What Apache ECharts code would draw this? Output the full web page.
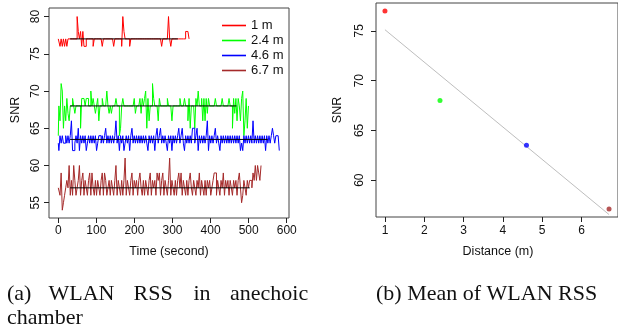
<!DOCTYPE html>
<html><head><meta charset="utf-8">
<script src="https://cdn.jsdelivr.net/npm/echarts@6/dist/echarts.min.js"></script>
<style>html,body{margin:0;padding:0;background:#fff;}#c{width:618px;height:331px;}</style>
</head><body><div id="c"></div>
<script>
// ---------- data ----------
const seriesNames = ['1 m', '2.4 m', '4.6 m', '6.7 m'];
const sampleStep = 3; // seconds between samples
const snr1m = [77,77,76,77,76,77,76,77,76,77,
 77,77,77,77,77,77,77,80,78,77,
 78,76,78,76,76,77,77,77,77,77,
 77,76,77,77,77,77,77,77,77,76,
 77,77,77,77,77,77,77,77,77,76,
 77,77,77,77,77,77,76,80,78,77,
 77,77,77,76,77,77,77,77,77,77,
 77,77,77,77,77,77,77,77,77,77,
 77,77,77,77,77,77,77,77,77,77,
 77,76,77,77,77,77,77,80,77,76,
 77,77,77,77,77,77,77,77,77,77,
 77,77,78,78,78,77];
const snr24m = [64,68,66,71,70,65,68,66,69,67,
 66,68,68,69,68,67,68,68,68,68,
 65,69,69,69,68,69,69,68,68,70,
 68,69,68,67,68,69,66,68,68,69,
 68,68,68,70,68,67,68,67,68,68,
 68,69,68,68,64,65,68,69,68,68,
 68,68,68,68,68,68,68,69,67,68,
 68,68,69,67,69,68,69,70,65,69,
 66,68,68,71,69,68,68,68,66,69,
 68,68,68,68,68,68,69,68,68,68,
 66,68,68,68,68,68,68,69,68,68,
 68,69,68,68,66,69,65,68,68,68,
 65,69,68,70,68,68,69,66,69,66,
 69,67,69,68,68,68,68,68,69,68,
 68,68,68,68,69,68,68,68,68,68,
 69,68,68,65,69,67,69,66,69,68,
 66,69,70,64,66,69,65,68];
const snr46m = [63,62,64,63,64,63,63,64,63,64,
 63,64,66,62,62,63,64,63,65,62,
 64,63,64,63,64,62,63,64,63,64,
 63,64,63,64,62,63,64,64,63,64,
 63,64,65,63,64,63,64,63,64,63,
 64,66,63,64,62,64,63,64,62,63,
 64,63,64,62,64,65,63,64,63,64,
 63,64,63,64,63,64,63,64,63,62,
 64,63,64,63,64,62,64,65,63,64,
 65,63,64,63,64,63,62,64,63,64,
 62,64,63,64,63,64,65,63,64,65,
 63,62,64,63,64,63,64,63,65,65,
 63,64,65,62,64,63,64,63,64,63,
 64,66,62,64,63,64,63,64,65,63,
 64,63,62,64,63,64,63,64,63,64,
 63,64,63,64,63,64,63,64,63,64,
 62,63,62,64,63,64,63,64,63,64,
 63,66,63,64,63,64,63,64,63,64,
 63,64,62,64,63,64,63,64,65,64,
 63,64,64,64,62];
const snr67m = [57,57,56,59,54,55,56,57,58,57,
 60,56,58,56,60,58,56,57,58,60,
 56,58,59,56,58,57,56,58,59,56,
 59,57,56,58,56,58,57,56,58,59,
 56,59,58,56,57,58,56,58,57,56,
 58,60,56,58,57,56,58,56,58,61,
 56,58,57,56,58,59,56,58,57,58,
 56,58,59,57,56,58,56,58,57,56,
 58,59,56,58,57,58,56,59,58,59,
 56,58,59,56,58,57,56,58,61,56,
 58,57,56,58,56,58,59,57,59,56,
 58,57,56,58,56,58,59,57,56,58,
 57,56,58,57,59,56,58,57,56,58,
 56,58,57,58,56,57,58,59,59,56,
 58,57,56,58,57,59,56,58,57,58,
 56,58,57,56,58,57,58,56,58,59,
 57,55,56,58,57,56,58,57,58,58,
 57,59,58,60,58,60,59,58,60];
const meanSNR = [77, 68, 63.5, 57];
const meanStart = [31, 31, 31, 31];
const meanEnd = [314, 468, 550, 503];
const timeTicks = [0, 100, 200, 300, 400, 500, 600];
const snrTicksA = [55, 60, 65, 70, 75, 80];

const distances = [1, 2.4, 4.6, 6.7];
const meanPoints = [77, 68, 63.5, 57.1];
const distTicks = [1, 2, 3, 4, 5, 6];
const snrTicksB = [60, 65, 70, 75];

// ---------- build ----------
const colors = ['#FF0000', '#00FF00', '#0000FF', '#A52A2A'];
const allSeries = [snr1m, snr24m, snr46m, snr67m];
const FONT = '"Liberation Sans", Arial, sans-serif';
const SERIF = '"Liberation Serif", "Times New Roman", serif';

// linear fit of the means against distance
const n = distances.length;
const mx = distances.reduce((a, b) => a + b, 0) / n;
const my = meanPoints.reduce((a, b) => a + b, 0) / n;
let sxy = 0, sxx = 0;
for (let i = 0; i < n; i++) { sxy += (distances[i] - mx) * (meanPoints[i] - my); sxx += (distances[i] - mx) ** 2; }
const slope = sxy / sxx, icpt = my - slope * mx;
const dMin = Math.min(...distances), dMax = Math.max(...distances);

const series = [];
allSeries.forEach((vals, k) => {
  series.push({
    name: seriesNames[k], type: 'line', xAxisIndex: 0, yAxisIndex: 0,
    data: vals.map((v, i) => [i * sampleStep, v]),
    step: 'middle', symbol: 'none', silent: true,
    lineStyle: { color: colors[k], width: 1 }, itemStyle: { color: colors[k] }, z: 2
  });
});
meanSNR.forEach((m, k) => {
  series.push({
    name: 'mean' + k, type: 'line', xAxisIndex: 0, yAxisIndex: 0,
    data: [[meanStart[k], m], [meanEnd[k], m]], symbol: 'none', silent: true,
    lineStyle: { color: '#000', width: 1 }, z: 3
  });
});
series.push({
  name: 'fit', type: 'line', xAxisIndex: 1, yAxisIndex: 1, symbol: 'none', silent: true,
  data: [[dMin, icpt + slope * dMin], [dMax, icpt + slope * dMax]],
  lineStyle: { color: '#BEBEBE', width: 1 }, z: 2
});
series.push({
  name: 'means', type: 'scatter', xAxisIndex: 1, yAxisIndex: 1, symbolSize: 5, silent: true,
  data: distances.map((d, i) => ({ value: [d, meanPoints[i]], itemStyle: { color: colors[i] } })), z: 3
});

function xAx(grid, min, max, ticks, margin) {
  return { type: 'value', gridIndex: grid, min: min, max: max,
    axisLine: { show: false, onZero: false }, splitLine: { show: false },
    axisTick: { show: true, inside: false, customValues: ticks, length: 5, lineStyle: { color: '#222' } },
    axisLabel: { customValues: ticks, margin: margin, fontSize: 12, fontFamily: FONT, color: '#111' } };
}
function yAx(grid, min, max, ticks, margin) {
  return { type: 'value', gridIndex: grid, min: min, max: max,
    axisLine: { show: false, onZero: false }, splitLine: { show: false },
    axisTick: { show: true, inside: false, customValues: ticks, length: 5, lineStyle: { color: '#222' } },
    axisLabel: { customValues: ticks, margin: margin, rotate: 90, fontSize: 12, fontFamily: FONT, color: '#111' } };
}

function txt(s, x, y, opts) {
  opts = opts || {};
  return { type: 'text', x: x, y: y, rotation: opts.rot || 0, silent: true,
    style: { text: s, font: opts.font || ('12.5px ' + FONT), fill: '#111',
      align: opts.align || 'center', verticalAlign: 'middle' } };
}
const capFont = '22px ' + SERIF;
const capY1 = 294.5, capY2 = 318.5;

const option = {
  animation: false,
  backgroundColor: '#fff',
  grid: [
    { left: 49, top: 8, width: 240, height: 210, show: true, borderColor: '#444', borderWidth: 1 },
    { left: 376, top: 3, width: 244, height: 214, show: true, borderColor: '#444', borderWidth: 1 }
  ],
  xAxis: [xAx(0, -24.4, 606, timeTicks, 7), xAx(1, 0.772, 6.928, distTicks, 8)],
  yAxis: [yAx(0, 52.95, 81.15, snrTicksA, 7.5), yAx(1, 56.3, 77.8, snrTicksB, 10)],
  legend: {
    data: seriesNames, orient: 'vertical', left: 222, top: 18, padding: 0,
    icon: 'rect', itemWidth: 24, itemHeight: 1.6, itemGap: 0, selectedMode: false,
    textStyle: { fontSize: 13, lineHeight: 15, fontFamily: FONT, color: '#111' }
  },
  graphic: [
    txt('SNR', 15.5, 110, { rot: Math.PI / 2 }),
    txt('Time (second)', 169, 252),
    txt('SNR', 337.5, 110, { rot: Math.PI / 2 }),
    txt('Distance (m)', 498, 251.5),
    txt('(a)', 7, capY1, { font: capFont, align: 'left' }),
    txt('WLAN', 48.5, capY1, { font: capFont, align: 'left' }),
    txt('RSS', 133.5, capY1, { font: capFont, align: 'left' }),
    txt('in', 193.5, capY1, { font: capFont, align: 'left' }),
    txt('anechoic', 230, capY1, { font: capFont, align: 'left' }),
    txt('chamber', 7, capY2, { font: capFont, align: 'left' }),
    txt('(b) Mean of WLAN RSS', 376, capY1, { font: capFont, align: 'left' })
  ],
  series: series
};
const chart = echarts.init(document.getElementById('c'), null, { renderer: 'canvas' });
chart.setOption(option);
</script></body></html>
